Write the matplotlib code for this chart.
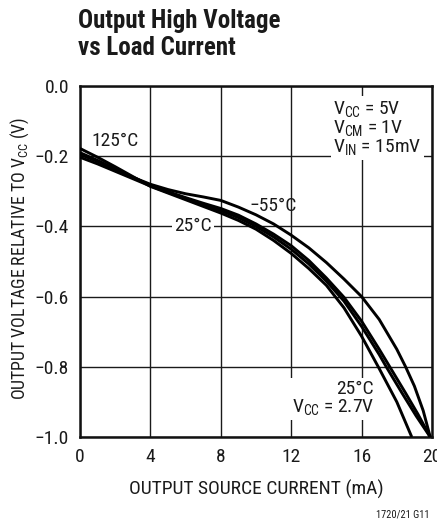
import matplotlib
matplotlib.use("Agg")
import matplotlib.pyplot as plt
from matplotlib import font_manager

names = {f.name for f in font_manager.fontManager.ttflist}
FONT = "Roboto Condensed" if "Roboto Condensed" in names else "Liberation Sans"
plt.rcParams['font.family'] = [FONT, 'DejaVu Sans']
plt.rcParams['mathtext.fontset'] = 'custom'
plt.rcParams['mathtext.rm'] = FONT
plt.rcParams['mathtext.it'] = FONT
plt.rcParams['mathtext.default'] = 'rm'

# Data (mA, V relative to Vcc)
curve_m55_x = [0, 1, 2, 3, 4, 5, 6, 7, 8, 9, 10, 11, 12, 13, 14, 15, 16, 17, 18, 18.5, 19, 19.5, 19.9]
curve_m55_y = [-0.195, -0.215, -0.237, -0.26, -0.28, -0.295, -0.307, -0.316, -0.326, -0.345, -0.367, -0.393, -0.425, -0.461, -0.503, -0.55, -0.60, -0.665, -0.75, -0.80, -0.855, -0.925, -1.0]

curve_25a_x = [0, 1, 2, 3, 4, 5, 6, 7, 8, 9, 10, 11, 12, 13, 14, 15, 16, 17, 17.6, 18.5, 19.2, 19.9]
curve_25a_y = [-0.19, -0.212, -0.236, -0.26, -0.283, -0.301, -0.318, -0.334, -0.349, -0.368, -0.393, -0.422, -0.455, -0.497, -0.547, -0.602, -0.67, -0.75, -0.80, -0.875, -0.935, -1.0]

curve_25b_x = [0, 1, 2, 3, 4, 5, 6, 7, 8, 9, 10, 11, 12, 13, 14, 15, 16, 17, 17.4, 18.3, 19.1, 19.9]
curve_25b_y = [-0.203, -0.222, -0.243, -0.264, -0.285, -0.303, -0.321, -0.338, -0.355, -0.375, -0.4, -0.43, -0.465, -0.507, -0.556, -0.613, -0.685, -0.765, -0.80, -0.875, -0.94, -1.0]

curve_125_x = [0, 1, 2, 3, 4, 5, 6, 7, 8, 9, 10, 11, 12, 13, 14, 15, 16, 17, 18, 18.85]
curve_125_y = [-0.178, -0.203, -0.23, -0.258, -0.286, -0.305, -0.324, -0.343, -0.362, -0.383, -0.408, -0.44, -0.477, -0.52, -0.568, -0.632, -0.713, -0.805, -0.9, -1.0]

curves = [(curve_m55_x, curve_m55_y), (curve_25a_x, curve_25a_y),
          (curve_25b_x, curve_25b_y), (curve_125_x, curve_125_y)]

x_ticks = [0, 4, 8, 12, 16, 20]
y_ticks = [0.0, -0.2, -0.4, -0.6, -0.8, -1.0]
x_ticklabels = ['0', '4', '8', '12', '16', '20']
y_ticklabels = ['0.0', '\u22120.2', '\u22120.4', '\u22120.6', '\u22120.8', '\u22121.0']

FS = 14
TXT = '#1a1a1a'

fig = plt.figure(figsize=(4.37, 5.23), dpi=100)
ax = fig.add_axes([80/437, 1 - 437/523, 352/437, 351/523])
ax.set_xlim(0, 20)
ax.set_ylim(-1.0, 0.0)
ax.set_xticks(x_ticks)
ax.set_xticklabels(x_ticklabels)
ax.set_yticks(y_ticks)
ax.set_yticklabels(y_ticklabels)
ax.tick_params(axis='both', length=0, labelsize=FS, colors=TXT)
ax.tick_params(axis='x', pad=8)
ax.tick_params(axis='y', pad=8)
ax.grid(True, color='#1a1a1a', linewidth=1.0)
for sp in ax.spines.values():
    sp.set_linewidth(1.8)
    sp.set_color('#111111')

for cx, cy in curves:
    ax.plot(cx, cy, color='black', linewidth=2.1, solid_capstyle='butt', clip_on=True, zorder=3)

ax.set_xlabel('OUTPUT SOURCE CURRENT (mA)', fontsize=FS, labelpad=10, color=TXT)
ax.set_ylabel(r'OUTPUT VOLTAGE RELATIVE TO V$_{\mathrm{CC}}$ (V)', fontsize=12.8, labelpad=3, color=TXT)
ax.yaxis.set_label_coords(-0.14, 0.51)

bbox_w = dict(facecolor='white', edgecolor='none', pad=1.5)
ax.text(2.0, -0.157, '125\u00b0C', fontsize=FS, ha='center', va='center', color=TXT, zorder=4)
ax.text(11.0, -0.343, '\u221255\u00b0C', fontsize=FS, ha='center', va='center', color=TXT, zorder=4)
ax.text(6.4, -0.40, '25\u00b0C', fontsize=FS, ha='center', va='center', color=TXT, bbox=bbox_w, zorder=4)
ax.text(14.4, -0.12, 'V$_{\\mathrm{CC}}$ = 5V\nV$_{\\mathrm{CM}}$ = 1V\nV$_{\\mathrm{IN}}$ = 15mV',
        fontsize=FS, ha='left', va='center', color=TXT, linespacing=0.95,
        bbox=dict(facecolor='white', edgecolor='none', pad=2), zorder=4)
ax.text(16.7, -0.89, '25\u00b0C\nV$_{\\mathrm{CC}}$ = 2.7V', fontsize=FS, ha='right', va='center',
        color=TXT, multialignment='right', linespacing=0.95,
        bbox=dict(facecolor='white', edgecolor='none', pad=2), zorder=4)

fig.text(78/437, 1 - 9/523, 'Output High Voltage\nvs Load Current', fontsize=18, fontweight='bold',
         ha='left', va='top', color=TXT, linespacing=1.15)
fig.text(430/437, 1 - 515/523, '1720/21 G11', fontsize=7.5, ha='right', va='center', color=TXT)

fig.savefig('out.png', dpi=100)
